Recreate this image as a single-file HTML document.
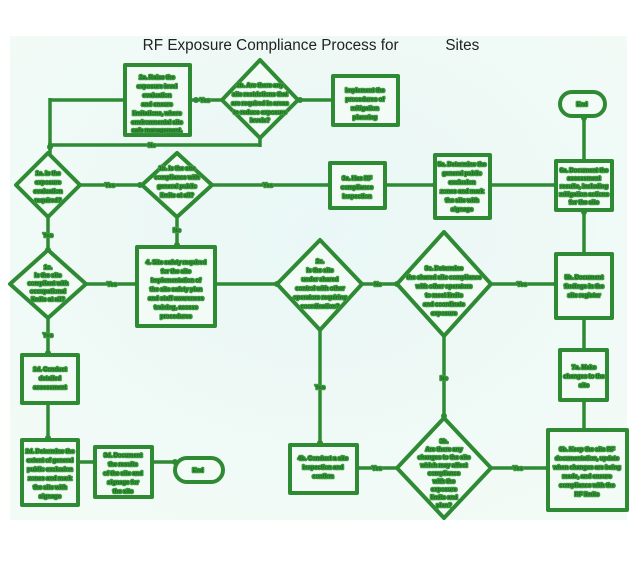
<!DOCTYPE html>
<html><head><meta charset="utf-8"><style>
html,body{margin:0;padding:0;background:#fff}
svg{display:block}
.s{fill:none;stroke:#2f8a34;stroke-width:4;stroke-linejoin:round}
.l{stroke:#2f8a34;stroke-width:3.5}
.t{font-family:"Liberation Sans",sans-serif;font-size:5.8px;font-weight:bold;fill:#1e6b22;stroke:#3d9b3f;stroke-width:2.6;paint-order:stroke;stroke-linejoin:round;text-anchor:middle}
.d{fill:#2f8a34}
</style></head><body>
<svg width="633" height="572" viewBox="0 0 633 572">
<defs><radialGradient id="g" cx="50%" cy="40%" r="70%"><stop offset="0" stop-color="#e9f7f6"/><stop offset="1" stop-color="#f3fbf6"/></radialGradient></defs>
<rect x="10" y="36" width="617" height="484" fill="url(#g)"/>
<text x="311" y="50" font-family="Liberation Sans,sans-serif" font-size="15.3" fill="#222" text-anchor="middle" xml:space="preserve">RF Exposure Compliance Process for           Sites</text>

<g class="l">
<line x1="50" y1="100" x2="125" y2="100"/><line x1="50" y1="98" x2="50" y2="155"/>
<line x1="48" y1="145" x2="260" y2="145"/><line x1="260" y1="138" x2="260" y2="147"/>
<line x1="190" y1="100" x2="222" y2="100"/><line x1="298" y1="100" x2="333" y2="100"/>
<line x1="80" y1="185" x2="142" y2="185"/><line x1="212" y1="185" x2="330" y2="185"/>
<line x1="385" y1="185" x2="435" y2="185"/><line x1="490" y1="185" x2="556" y2="185"/>
<line x1="584" y1="116" x2="584" y2="161"/><line x1="584" y1="210" x2="584" y2="254"/>
<line x1="48" y1="217" x2="48" y2="250"/><line x1="177" y1="217" x2="177" y2="247"/>
<line x1="86" y1="284" x2="137" y2="284"/><line x1="215" y1="284" x2="277" y2="284"/>
<line x1="362" y1="284" x2="397" y2="284"/><line x1="491" y1="284" x2="556" y2="284"/>
<line x1="48" y1="316" x2="48" y2="355"/><line x1="48" y1="403" x2="48" y2="440"/>
<line x1="78" y1="462" x2="95" y2="462"/><line x1="152" y1="462" x2="175" y2="462"/>
<line x1="320" y1="330" x2="320" y2="445"/><line x1="444" y1="336" x2="444" y2="418"/>
<line x1="357" y1="468" x2="397" y2="468"/><line x1="491" y1="468" x2="548" y2="468"/>
<line x1="584" y1="318" x2="584" y2="350"/><line x1="584" y1="400" x2="584" y2="430"/>
</g>
<g class="d">
<circle cx="50" cy="147" r="3"/><circle cx="196" cy="100" r="3"/><circle cx="300" cy="100" r="3"/>
<circle cx="140" cy="185" r="3"/><circle cx="330" cy="185" r="3"/><circle cx="435" cy="185" r="3"/><circle cx="556" cy="185" r="3"/>
<circle cx="584" cy="118" r="3"/><circle cx="584" cy="212" r="3"/><circle cx="48" cy="250" r="3"/><circle cx="177" cy="245" r="3"/>
<circle cx="137" cy="284" r="3"/><circle cx="277" cy="284" r="3"/><circle cx="397" cy="284" r="3"/><circle cx="556" cy="284" r="3"/>
<circle cx="48" cy="353" r="3"/><circle cx="48" cy="438" r="3"/><circle cx="95" cy="462" r="3"/><circle cx="175" cy="462" r="3"/>
<circle cx="320" cy="443" r="3"/><circle cx="444" cy="416" r="3"/><circle cx="357" cy="468" r="3"/><circle cx="548" cy="468" r="3"/>
<circle cx="584" cy="400" r="3"/>
</g>
<g class="t">
<text x="205" y="102">Yes</text><text x="152" y="147">No</text><text x="110" y="187">Yes</text><text x="268" y="187">Yes</text>
<text x="48" y="237">Yes</text><text x="177" y="232">No</text><text x="112" y="286">Yes</text><text x="378" y="286">No</text>
<text x="522" y="286">Yes</text><text x="48" y="337">Yes</text><text x="320" y="389">Yes</text><text x="444" y="380">No</text>
<text x="377" y="470">Yes</text><text x="518" y="470">Yes</text>
</g>

<g class="s">
<rect x="125" y="65" width="65" height="70" fill="#f3fbf6"/>
<polygon points="260,60 298,100 260,138 222,100" fill="#f3fbf6"/>
<rect x="333" y="76" width="65" height="49" fill="#f3fbf6"/>
<polygon points="48,153 80,185 48,217 16,185" fill="#f3fbf6"/>
<polygon points="177,153 212,185 177,217 142,185" fill="#f3fbf6"/>
<rect x="330" y="163" width="55" height="45" fill="#f3fbf6"/>
<rect x="435" y="155" width="55" height="63" fill="#f3fbf6"/>
<rect x="556" y="161" width="56" height="49" fill="#f3fbf6"/>
<rect x="560" y="92" width="45" height="24" rx="12" fill="#f3fbf6"/>
<polygon points="48,250 86,284 48,318 10,284" fill="#f3fbf6"/>
<rect x="137" y="247" width="78" height="79" fill="#f3fbf6"/>
<polygon points="320,240 362,284 320,330 277,284" fill="#f3fbf6"/>
<polygon points="444,232 491,284 444,336 397,284" fill="#f3fbf6"/>
<rect x="556" y="254" width="56" height="64" fill="#f3fbf6"/>
<rect x="22" y="355" width="56" height="48" fill="#f3fbf6"/>
<rect x="22" y="440" width="56" height="65" fill="#f3fbf6"/>
<rect x="95" y="447" width="57" height="50" fill="#f3fbf6"/>
<rect x="175" y="458" width="48" height="24" rx="12" fill="#f3fbf6"/>
<rect x="290" y="445" width="67" height="48" fill="#f3fbf6"/>
<polygon points="444,418 491,468 444,518 397,468" fill="#f3fbf6"/>
<rect x="548" y="430" width="79" height="80" fill="#f3fbf6"/>
<rect x="560" y="350" width="47" height="50" fill="#f3fbf6"/>
</g>

<g class="t">
<text x="157" y="79">2a. Raise the</text><text x="157" y="88">exposure level</text><text x="157" y="97">evaluation</text><text x="157" y="106">and ensure</text><text x="157" y="115">limitations, where</text><text x="157" y="124">environmental site</text><text x="157" y="132">safe management.</text>
<text x="260" y="87">2b. Are there any</text><text x="260" y="96">site restrictions that</text><text x="260" y="105">are required in areas</text><text x="260" y="114">to reduce exposure</text><text x="260" y="122">levels?</text>
<text x="365" y="92">Implement the</text><text x="365" y="101">procedures of</text><text x="365" y="110">mitigation</text><text x="365" y="119">planning</text>
<text x="48" y="175">1a. Is the</text><text x="48" y="184">exposure</text><text x="48" y="193">evaluation</text><text x="48" y="202">required?</text>
<text x="177" y="170">1b. Is the site</text><text x="177" y="179">compliance with</text><text x="177" y="188">general public</text><text x="177" y="197">limits at all?</text>
<text x="357" y="180">3a. Has RF</text><text x="357" y="189">compliance</text><text x="357" y="198">inspection</text>
<text x="462" y="166">5a. Determine the</text><text x="462" y="175">general public</text><text x="462" y="184">exclusion</text><text x="462" y="193">zones and mark</text><text x="462" y="202">the site with</text><text x="462" y="211">signage</text>
<text x="584" y="172">6a. Document the</text><text x="584" y="180">assessment</text><text x="584" y="188">results, including</text><text x="584" y="196">mitigation actions</text><text x="584" y="204">for the site</text>
<text x="582" y="106">End</text>
<text x="48" y="269">1c.</text><text x="48" y="277">Is the site</text><text x="48" y="285">compliant with</text><text x="48" y="293">occupational</text><text x="48" y="301">limits at all?</text>
<text x="176" y="264">4. Site safety required</text><text x="176" y="273">for the site</text><text x="176" y="282">Implementation of</text><text x="176" y="291">the site safety plan</text><text x="176" y="300">and staff awareness</text><text x="176" y="309">training, access</text><text x="176" y="318">procedures</text>
<text x="320" y="263">2c.</text><text x="320" y="272">Is the site</text><text x="320" y="281">under shared</text><text x="320" y="290">control with other</text><text x="320" y="299">operators requiring</text><text x="320" y="308">coordination?</text>
<text x="444" y="270">3c. Determine</text><text x="444" y="279">the shared site compliance</text><text x="444" y="288">with other operators</text><text x="444" y="297">to meet limits</text><text x="444" y="306">and coordinate</text><text x="444" y="315">exposure</text>
<text x="584" y="279">5b. Document</text><text x="584" y="288">findings in the</text><text x="584" y="297">site register</text>
<text x="50" y="371">1d. Conduct</text><text x="50" y="380">detailed</text><text x="50" y="389">assessment</text>
<text x="50" y="453">2d. Determine the</text><text x="50" y="462">extent of general</text><text x="50" y="471">public exclusion</text><text x="50" y="480">zones and mark</text><text x="50" y="489">the site with</text><text x="50" y="498">signage</text>
<text x="123" y="457">3d. Document</text><text x="123" y="466">the results</text><text x="123" y="475">of the site and</text><text x="123" y="484">signage for</text><text x="123" y="493">the site</text>
<text x="198" y="472">End</text>
<text x="323" y="460">4b. Conduct a site</text><text x="323" y="469">inspection and</text><text x="323" y="478">confirm</text>
<text x="444" y="443">3b.</text><text x="444" y="451">Are there any</text><text x="444" y="459">changes to the site</text><text x="444" y="467">which may affect</text><text x="444" y="475">compliance</text><text x="444" y="483">with the</text><text x="444" y="491">exposure</text><text x="444" y="499">limits and</text><text x="444" y="507">plan?</text>
<text x="587" y="451">6b. Keep the site RF</text><text x="587" y="460">documentation, update</text><text x="587" y="469">when changes are being</text><text x="587" y="478">made, and ensure</text><text x="587" y="487">compliance with the</text><text x="587" y="496">RF limits</text>
<text x="584" y="369">7a. Make</text><text x="584" y="378">changes to the</text><text x="584" y="387">site</text>
</g>
</svg>
</body></html>
